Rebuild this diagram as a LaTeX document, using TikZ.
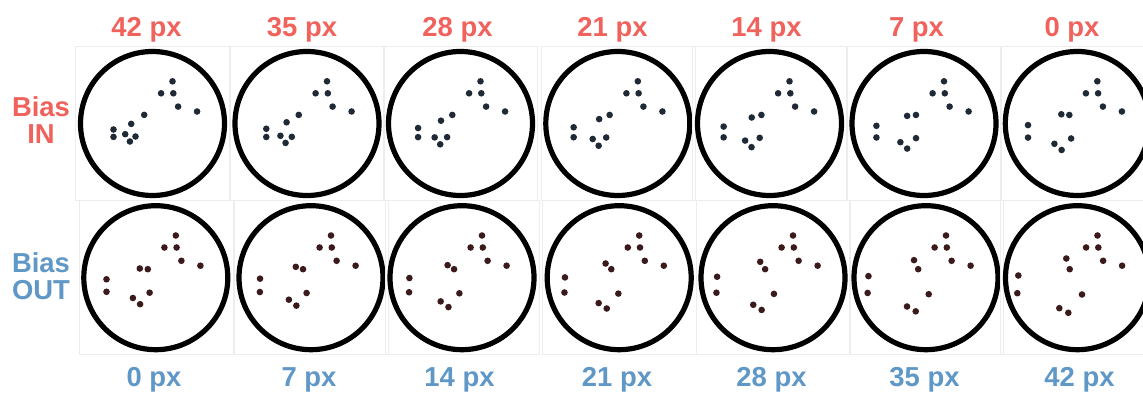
\documentclass[tikz,border=0pt]{standalone}
\usepackage{fontspec}
\setmainfont{Liberation Sans}
\definecolor{BiasRed}{HTML}{F0625B}
\definecolor{BiasBlue}{HTML}{5F97C6}
\definecolor{DotNavy}{HTML}{1F2A36}
\definecolor{DotMaroon}{HTML}{3B1A1C}
\tikzset{ring/.style={circle,draw=black,line width=2.6pt,minimum size=72pt,inner sep=0pt},
panel/.style={draw=black!7,line width=0.3pt,minimum size=77pt,inner sep=0pt},
pxlabel/.style={anchor=base,inner sep=0pt,font=\fontsize{13.7}{15}\selectfont\bfseries},
sidelabel/.style={align=center,inner sep=0pt,font=\fontsize{13.7}{13.6}\selectfont\bfseries}}
% dots that stay put, and dots that move: base / bias in at 42 px / bias out at 42 px
\def\fixeddots{20/-42.2, 8.6/-30.2, 20.8/-30.2, 25.6/-16.9, 44.6/-12}
\def\movedots{-16/-9.2/-21.3/0.4/-11.2/-19.2, -8/-8.5/-8.3/-8.6/-7.8/-8.5,
-49.3/1.6/-39/6/-59.2/-2.2, -49.3/14.1/-39/13.4/-60.2/15.5,
-22.9/20.3/-27.3/10.7/-18.2/30.5, -15.7/26.5/-22.6/18/-9.2/35.1,
-6.2/15/-17/13/4.5/16.8}

\begin{document}
\begin{tikzpicture}[x=0.5pt,y=-0.5pt]
\clip (0,0) rectangle (1143,394);
\fill[white] (0,0) rectangle (1143,394);
\node[sidelabel,text=BiasRed](biasin) at (41,120){Bias\\IN};
\node[sidelabel,text=BiasBlue](biasout) at (41,276.5){Bias\\OUT};
% bias in row
\foreach \cx/\px/\lx [count=\i] in {152.5/42/146.5,307/35/302,460.5/28/457.5,617.8/21/612.5,769.5/14/766.5,924/7/916.5,1077.3/0/1072}{
  \node[panel](fin\i) at (\cx,123.5){};
  \node[ring](rin\i) at (\cx,123.5){};
  \node[pxlabel,text=BiasRed](lin\i) at (\lx,36.7){\px\ px};
  \pgfmathsetmacro\t{\px/42}
  \foreach \dx/\dy in \fixeddots \fill[DotNavy] ({\cx+(\dx)},{123.5+(\dy)}) circle (1.65pt);
  \foreach \bx/\by/\ix/\iy/\ox/\oy in \movedots
    \fill[DotNavy] ({\cx+(\bx)+\t*((\ix)-(\bx))},{123.5+(\by)+\t*((\iy)-(\by))}) circle (1.65pt);
}
% bias out row
\foreach \cx/\px/\lx [count=\i] in {155.8/0/154,311/7/309,462/14/459.5,619.2/21/617,773/28/771.5,926/35/924.5,1077.5/42/1079.5}{
  \node[panel](fout\i) at (\cx,277.7){};
  \node[ring](rout\i) at (\cx,277.7){};
  \node[pxlabel,text=BiasBlue](lout\i) at (\lx,386.7){\px\ px};
  \pgfmathsetmacro\t{\px/42}
  \foreach \dx/\dy in \fixeddots \fill[DotMaroon] ({\cx+(\dx)},{277.7+(\dy)}) circle (1.65pt);
  \foreach \bx/\by/\ix/\iy/\ox/\oy in \movedots
    \fill[DotMaroon] ({\cx+(\bx)+\t*((\ox)-(\bx))},{277.7+(\by)+\t*((\oy)-(\by))}) circle (1.65pt);
}
\end{tikzpicture}
\end{document}
